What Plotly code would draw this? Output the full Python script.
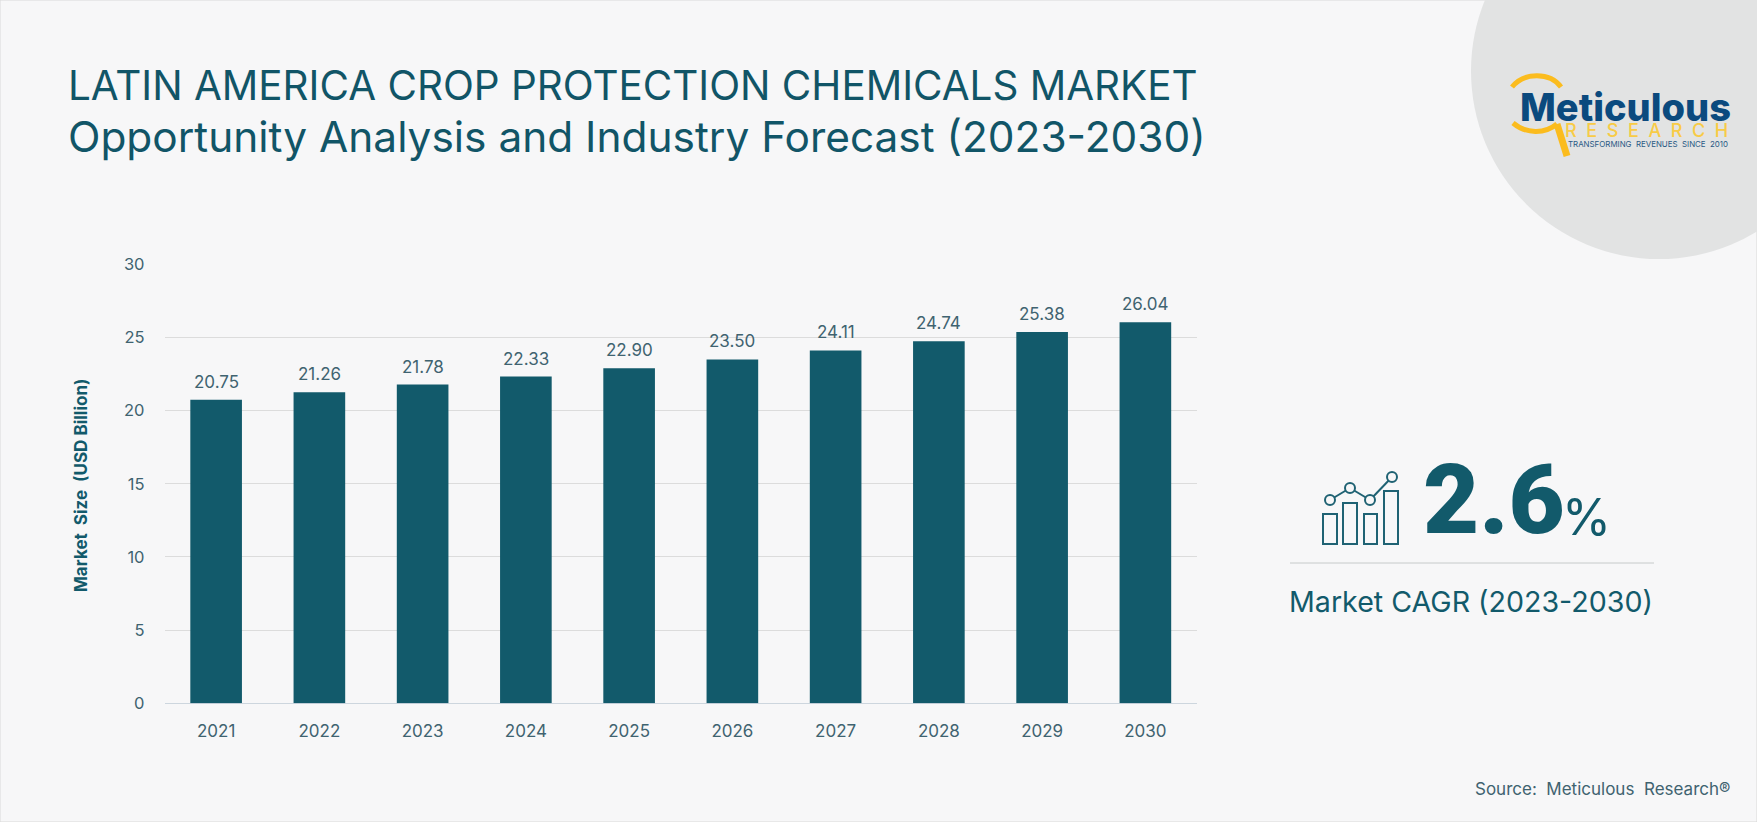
import plotly.graph_objects as go

years = [2021,2022,2023,2024,2025,2026,2027,2028,2029,2030]
market_size = [20.75,21.26,21.78,22.33,22.90,23.50,24.11,24.74,25.38,26.04]
y_ticks = [0,5,10,15,20,25,30]

W, H = 1757, 822
FONT = "Inter"
TEAL = "#125a6b"
TXT = "#3f6370"

def px(x): return x / W
def py(y): return 1 - y / H

def path(*parts):
    out = []
    for cmd, pts in parts:
        out.append(cmd + " ".join(f"{px(a):.5f},{py(b):.5f}" for a, b in pts))
    return " ".join(out)

shapes = []
shapes.append(dict(type="rect", xref="paper", yref="paper", x0=0, x1=1, y0=0, y1=1,
                   line=dict(color="#d9d9d9", width=1), fillcolor="rgba(0,0,0,0)", layer="below"))
shapes.append(dict(type="circle", xref="paper", yref="paper", x0=px(1659-188), x1=px(1659+188),
                   y0=py(71+188), y1=py(71-188), fillcolor="#e2e3e3", line=dict(width=0), layer="below"))
shapes.append(dict(type="line", xref="paper", yref="paper", x0=px(1290), x1=px(1654), y0=py(563), y1=py(563),
                   line=dict(color="#c6caca", width=1)))
YEL = "#fbbc1e"
shapes.append(dict(type="path", xref="paper", yref="paper",
                   path=path(("M", [(1512, 87)]), ("C", [(1524, 72), (1550, 72), (1561, 87)])),
                   line=dict(color=YEL, width=5)))
shapes.append(dict(type="path", xref="paper", yref="paper",
                   path=path(("M", [(1513, 123)]), ("C", [(1526, 134), (1545, 134), (1557, 124)])),
                   line=dict(color=YEL, width=5)))
shapes.append(dict(type="line", xref="paper", yref="paper", x0=px(1557), x1=px(1567), y0=py(124), y1=py(156),
                   line=dict(color=YEL, width=7)))
ICON = "#1f6273"
for x0, x1, top in [(1323,1337,514),(1343,1357,503),(1364,1377,514),(1384,1398,491)]:
    shapes.append(dict(type="rect", xref="paper", yref="paper", x0=px(x0), x1=px(x1), y0=py(544), y1=py(top),
                       line=dict(color=ICON, width=2), fillcolor="rgba(0,0,0,0)"))
nodes = [(1330,500),(1350,488),(1370,500),(1392,477)]
for a, b in zip(nodes[:-1], nodes[1:]):
    shapes.append(dict(type="line", xref="paper", yref="paper", x0=px(a[0]), x1=px(b[0]), y0=py(a[1]), y1=py(b[1]),
                       line=dict(color=ICON, width=2)))
for cx, cy in nodes:
    shapes.append(dict(type="circle", xref="paper", yref="paper", x0=px(cx-5), x1=px(cx+5), y0=py(cy+5), y1=py(cy-5),
                       fillcolor="#f7f7f8", line=dict(color=ICON, width=2)))

def note(text, x, y, size, color=TEAL, anchor="left", weight=None, angle=None, family=FONT):
    f = dict(family=family, size=size, color=color)
    if weight: f["weight"] = weight
    d = dict(text=text, xref="paper", yref="paper", x=px(x), y=py(y), xanchor=anchor, yanchor="middle",
             showarrow=False, font=f, borderpad=0)
    if angle is not None: d["textangle"] = angle
    return d

NB = "\u00a0"
annotations = [
    note("LATIN AMERICA CROP PROTECTION CHEMICALS MARKET", 67, 85, 40.4, "#115567"),
    note("Opportunity Analysis and Industry Forecast (2023-2030)", 67, 137, 42.4, "#115567"),
    note(f"Market{NB}{NB}Size{NB}{NB}(USD Billion)", 81, 486, 17, TEAL, "center", 700, -90),
    note("2.6", 1422, 500, 97, TEAL, "left", 900, None, "Roboto"),
    note("%", 1561, 517, 50, TEAL, "left", 400),
    note("Market CAGR (2023-2030)", 1288, 601, 28.6, TEAL, "left"),
    note(f"Source:{NB}{NB}Meticulous{NB}{NB}Research\u00ae", 1731, 789, 17, TXT, "right"),
    note("Meticulous", 1519, 107, 38, "#0b4a7e", "left", 800),
    note(f"{NB}{NB}".join("RESEARCH"), 1729, 131, 18, "#f8cb46", "right", 500),
    note(f"TRANSFORMING{NB}{NB}REVENUES{NB}{NB}SINCE{NB}{NB}2010", 1729, 144, 7.9, "#2a5a85", "right"),
]
for yr, v in zip(years, market_size):
    annotations.append(dict(x=yr, y=v, xref="x", yref="y", text=f"{v:.2f}", showarrow=False,
                            yanchor="bottom", yshift=6, font=dict(family=FONT, size=17, color=TXT)))

fig = go.Figure(go.Bar(x=years, y=market_size, marker=dict(color=TEAL, line=dict(width=0)), width=0.5))
fig.update_layout(
    width=W, height=H, autosize=False,
    margin=dict(l=0, r=0, t=0, b=0),
    paper_bgcolor="#f7f7f8", plot_bgcolor="rgba(0,0,0,0)",
    showlegend=False, shapes=shapes, annotations=annotations,
    font=dict(family=FONT, color=TXT),
    xaxis=dict(domain=[px(164.5), px(1197)], range=[2020.5, 2030.5], tickvals=years, automargin=False,
               showgrid=False, showline=False, zeroline=False,
               tickfont=dict(family=FONT, size=17, color=TXT), ticks="", ticklabelstandoff=16, fixedrange=True),
    yaxis=dict(domain=[py(703.3), py(264.3)], range=[0, 30], tickvals=y_ticks, automargin=False,
               showgrid=True, gridcolor="#dcdcdc",
               gridwidth=1, zeroline=True, zerolinecolor="#cdd6de", zerolinewidth=1, showline=False,
               tickfont=dict(family=FONT, size=16.5, color=TXT), ticks="", ticklabelstandoff=19, fixedrange=True),
)
fig.write_html("out.html", config=dict(displayModeBar=False),
               post_script="document.body.style.margin='0';")
